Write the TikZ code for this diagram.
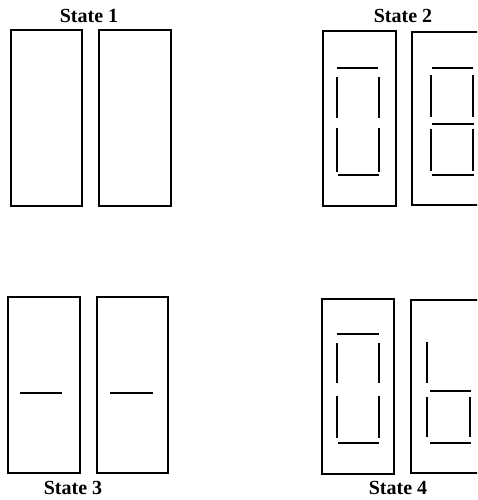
\documentclass[tikz,border=0pt]{standalone}
\usepackage{fontspec}
\setmainfont{Liberation Serif}
\begin{document}
\begin{tikzpicture}[x=1pt,y=-1pt,
  digitbox/.style={draw=black,line width=1.6pt},
  seg/.style={line width=1.8pt,line cap=butt},
  lbl/.style={font=\bfseries\fontsize{20}{22}\selectfont,inner sep=0pt}]
\useasboundingbox (0,0) rectangle (477,500);
\clip (0,0) rectangle (477,500);
% State 1
\node[lbl] (l1) at (89,16) {State 1};
\draw[digitbox] (11,30) rectangle (82,206);
\draw[digitbox] (99,30) rectangle (171,206);
% State 2
\node[lbl] (l2) at (403,16) {State 2};
\draw[digitbox] (323,31) rectangle (396,206);
\draw[digitbox] (412,32) rectangle (486,205);
% digit 0 (left)
\draw[seg] (337,68) -- (378,68);
\draw[seg] (337,77) -- (337,118);
\draw[seg] (379,77) -- (379,118);
\draw[seg] (337,128) -- (337,172);
\draw[seg] (379,128) -- (379,172);
\draw[seg] (338,175) -- (379,175);
% digit 8 (right)
\draw[seg] (432,68) -- (473,68);
\draw[seg] (431,75) -- (431,117);
\draw[seg] (473,75) -- (473,117);
\draw[seg] (432,124) -- (474,124);
\draw[seg] (431,129) -- (431,171);
\draw[seg] (473,129) -- (473,171);
\draw[seg] (432,175) -- (474,175);
% State 3
\node[lbl] (l3) at (73,488) {State 3};
\draw[digitbox] (8,297) rectangle (80,473);
\draw[digitbox] (97,297) rectangle (168,473);
\draw[seg] (20,393) -- (62,393);
\draw[seg] (110,393) -- (153,393);
% State 4
\node[lbl] (l4) at (398,488) {State 4};
\draw[digitbox] (322,299) rectangle (394,474);
\draw[digitbox] (411,300) rectangle (486,473);
% digit 0 (left)
\draw[seg] (337,334) -- (379,334);
\draw[seg] (337,343) -- (337,383);
\draw[seg] (379,343) -- (379,383);
\draw[seg] (337,396) -- (337,438);
\draw[seg] (379,396) -- (379,438);
\draw[seg] (338,443) -- (379,443);
% digit b (right)
\draw[seg] (427,342) -- (427,383);
\draw[seg] (430,391) -- (471,391);
\draw[seg] (427,397) -- (427,437);
\draw[seg] (470,397) -- (470,437);
\draw[seg] (430,443) -- (471,443);
\end{tikzpicture}
\end{document}
